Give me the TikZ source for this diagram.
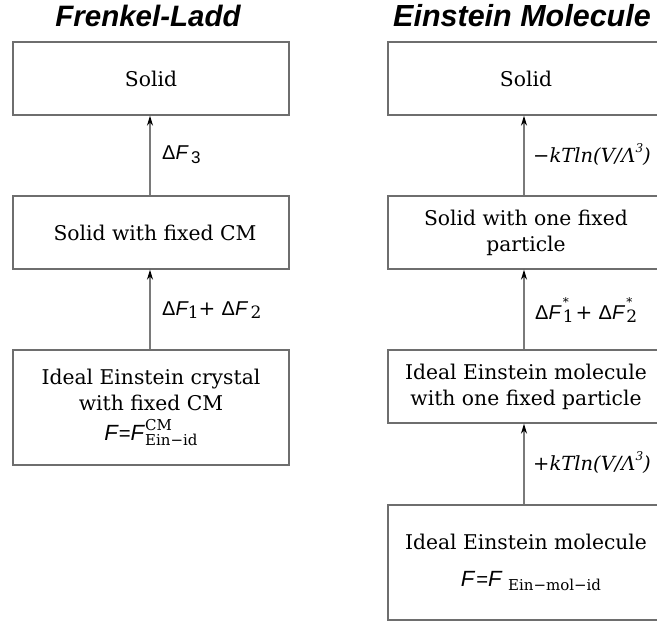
\documentclass[tikz,border=0pt]{standalone}
\usepackage{fontspec}
\setmainfont{DejaVu Serif}
\newfontfamily\arialfont{Liberation Sans}
\usetikzlibrary{arrows.meta}

\definecolor{boxgray}{HTML}{6E6E6E}
\definecolor{linegray}{HTML}{7A7A7A}

% sans italic F, and lowered / raised small indices for the free-energy labels
\newcommand{\sF}{{\arialfont\itshape F}}
\newcommand{\bigF}{{\arialfont\itshape\fontsize{22}{22}\selectfont F}}
\newcommand{\lo}[1]{\raisebox{-0.35ex}{\fontsize{17}{17}\selectfont #1}}
\newcommand{\hi}[1]{\raisebox{1.0ex}{\fontsize{12}{12}\selectfont #1}}
% star above, index below, stacked in the same column
\newcommand{\starsub}[1]{\rlap{\raisebox{1.25ex}{\fontsize{12}{12}\selectfont *}}\lo{#1}}

\begin{document}
\begin{tikzpicture}[x=1pt,y=-1pt,
  stage/.style={draw=boxgray, line width=1.4pt, rectangle, minimum width=276pt,
    align=center, inner sep=0pt, font=\fontsize{20.3}{26}\selectfont},
  short/.style={stage, minimum height=73pt},
  tall/.style={stage, minimum height=115pt},
  step arrow/.style={draw=linegray, line width=1.3pt,
    -{Stealth[length=10pt,width=6pt,black]}},
  title/.style={font=\arialfont\bfseries\itshape\fontsize{29.5}{32}\selectfont},
  lbl/.style={anchor=west, inner sep=0pt, font=\fontsize{20}{22}\selectfont}]

\useasboundingbox (0,0) rectangle (657,626);
\clip (0,0) rectangle (657,626);

% left column: Frenkel-Ladd route
\node[title] (tl) at (148,16) {Frenkel-Ladd};
\node[short] (l1) at (151,78.5) {Solid};
\node[short] (l2) at (151,232.5) {\hspace*{8pt}Solid with fixed CM};
\node[tall]  (l3) at (151,407.5) {Ideal Einstein crystal\\with fixed CM\\[4pt]
  \bigF\kern1pt{\arialfont =}\bigF\kern1pt\rlap{\raisebox{10pt}{\fontsize{15}{15}\selectfont CM}}%
  \raisebox{-5pt}{\fontsize{15}{15}\selectfont Ein−id}};

\draw[step arrow] (l2.north -| 150,0) -- (l1.south -| 150,0);
\draw[step arrow] (l3.north -| 150,0) -- (l2.south -| 150,0);
\node[lbl] (a1) at (162,155) {{\arialfont Δ}\sF\,\lo{\arialfont 3}};
\node[lbl] (a2) at (162,310) {{\arialfont Δ}\sF\lo{1}+ {\arialfont Δ}\sF\,\lo{2}};

% right column: Einstein-molecule route
\node[title, font=\arialfont\bfseries\itshape\fontsize{30.5}{32}\selectfont] (tr) at (522,16) {Einstein Molecule};
\node[short] (r1) at (526,78.5) {Solid};
\node[short] (r2) at (526,232.5) {Solid with one fixed\\particle};
\node[short] (r3) at (526,386.5) {Ideal Einstein molecule\\with one fixed particle};
\node[tall]  (r4) at (526,562.5) {Ideal Einstein molecule\\[11pt]
  \hspace*{10pt}\bigF\kern2pt{\arialfont =}\bigF\ \raisebox{-4pt}{\fontsize{15}{15}\selectfont Ein−mol−id}};

\draw[step arrow] (r2.north -| 524,0) -- (r1.south -| 524,0);
\draw[step arrow] (r3.north -| 524,0) -- (r2.south -| 524,0);
\draw[step arrow] (r4.north -| 524,0) -- (r3.south -| 524,0);
\node[lbl, font=\fontsize{19.5}{22}\selectfont] (b1) at (533,155) {\itshape −kTln(V/Λ\hi{3})};
\node[lbl] (b2) at (535,310) {{\arialfont Δ}\sF\kern2pt\starsub{1}\kern2pt+ {\arialfont Δ}\sF\kern2pt\starsub{2}};
\node[lbl, font=\fontsize{19.5}{22}\selectfont] (b3) at (533,463) {\itshape +kTln(V/Λ\hi{3})};
\end{tikzpicture}
\end{document}
